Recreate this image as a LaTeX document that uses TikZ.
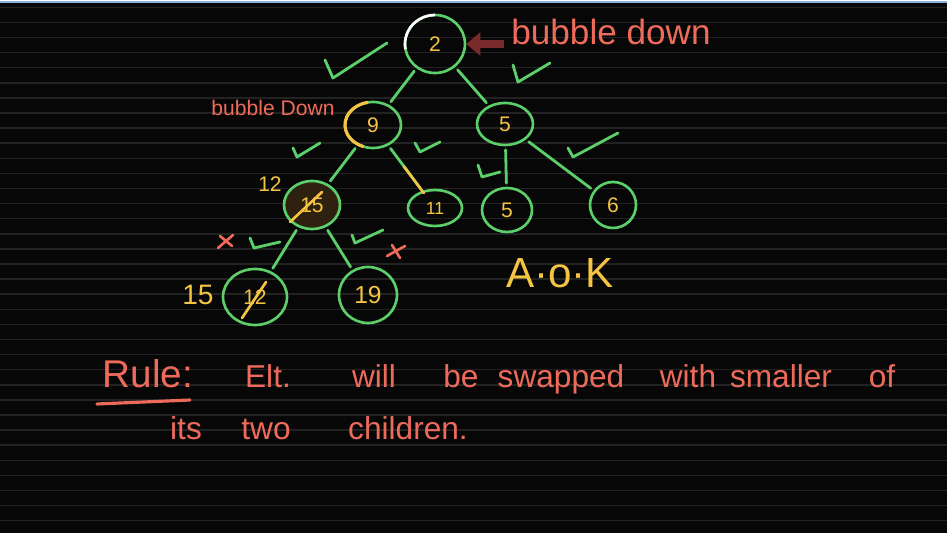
\documentclass[tikz,border=0pt]{standalone}
\usepackage{fontspec}
\setmainfont{Liberation Sans}
\usetikzlibrary{shapes.geometric,calc,arrows.meta}
\definecolor{bg}{HTML}{070707}
\definecolor{ruled}{HTML}{222222}
\definecolor{topblue}{HTML}{8EAEDB}
\definecolor{hgreen}{HTML}{5CCF6A}
\definecolor{hyellow}{HTML}{F5C443}
\definecolor{hred}{HTML}{EE6B5C}
\definecolor{arrowred}{HTML}{7A2A2A}
\definecolor{glow}{HTML}{2E2110}
\tikzset{
  heapnode/.style={ellipse, draw=hgreen, line width=1.5pt, inner sep=0pt, text=hyellow,
    font=\fontsize{12}{12}\selectfont},
  edgeline/.style={draw=hgreen, line width=1.6pt, line cap=round, shorten >=2pt, shorten <=2pt},
  inkgreen/.style={draw=hgreen, line width=1.6pt, line cap=round, line join=round},
  inkyellow/.style={draw=hyellow, line width=1.5pt, line cap=round},
  inkred/.style={draw=hred, line width=1.5pt, line cap=round},
  redtext/.style={text=hred, inner sep=0pt},
  yeltext/.style={text=hyellow, inner sep=0pt},
  ruletext/.style={redtext, anchor=base, font=\fontsize{18}{18}\selectfont},
  sz/.style 2 args={minimum width=#1*0.02cm, minimum height=#2*0.02cm}
}
\begin{document}
\begin{tikzpicture}[x=0.02cm,y=-0.02cm]
\useasboundingbox (0,0) rectangle (947,533);
\fill[bg] (0,0) rectangle (947,533);
\foreach \i in {0,...,34} \draw[ruled, line width=0.9pt] (0,{7.3+15.1*\i}) -- (947,{7.3+15.1*\i});
\fill[white] (0,0) rectangle (947,1.5);
\fill[topblue] (0,1.5) rectangle (947,3.5);

% heap nodes
\node[heapnode, sz={60}{58}] (n2) at (435,44) {2};
\node[heapnode, sz={56}{46}] (n9) at (373,125) {9};
\node[heapnode, sz={56}{42}] (n5) at (505,124) {5};
\node[heapnode, sz={56}{48}, fill=glow] (n15) at (312,205) {15};
\node[heapnode, sz={54}{36}, font=\fontsize{10}{10}\selectfont] (n11) at (435,208) {11};
\node[heapnode, sz={50}{44}] (n5b) at (507,210) {5};
\node[heapnode, sz={46}{46}] (n6) at (613,205) {6};
\node[heapnode, sz={64}{56}] (n12) at (255,297) {12};
\node[heapnode, sz={58}{56}, font=\fontsize{14}{14}\selectfont] (n19) at (368,295) {19};

% highlights on circles
\draw[white, line width=1.5pt] ([shift={(435,44)}]170:30 and 29) arc[start angle=170, end angle=270, x radius=30, y radius=29];
\draw[hyellow, line width=1.8pt] ([shift={(373,125)}]110:28 and 23) arc[start angle=110, end angle=260, x radius=28, y radius=23];

% edges
\draw[edgeline] (n2) -- (n9);
\draw[edgeline] (n2) -- (n5);
\draw[edgeline] (n9) -- (n15);
\draw[edgeline] (n9) -- (n11);
\draw[inkyellow] ($(n9)!0.5!(n11)$) -- ($(n9)!0.82!(n11)$);
\draw[edgeline] (n5) -- (n5b);
\draw[edgeline] (n5) -- (n6);
\draw[edgeline] (n15) -- (n12);
\draw[edgeline] (n15) -- (n19);

% strike-throughs
\draw[inkyellow] ($(n15)+(-22,17)$) -- ($(n15)+(10,-13)$);
\draw[inkyellow] ($(n12)+(-13,21)$) -- ($(n12)+(11,-15)$);

% check marks
\draw[inkgreen] (325,60) -- (333,78) -- (387,43);
\draw[inkgreen] (513,65) -- (518,82) -- (550,63);
\draw[inkgreen] (293,148) -- (297,157) -- (320,143);
\draw[inkgreen] (415,143) -- (420,152) -- (440,142);
\draw[inkgreen] (568,148) -- (573,157) -- (618,133);
\draw[inkgreen] (478,165) -- (482,177) -- (500,172);
\draw[inkgreen] (250,238) -- (254,248) -- (280,242);
\draw[inkgreen] (352,235) -- (355,243) -- (383,230);

% red crosses
\draw[inkred] (218,248) -- (233,235);
\draw[inkred] (220,236) -- (232,246);
\draw[inkred] (387,256) -- (405,246);
\draw[inkred] (392,245) -- (400,258);

% labels
\node[redtext, anchor=base, font=\fontsize{20}{20}\selectfont] (bd) at (611,45) {bubble down};
\draw[arrowred, line width=5pt, -{Triangle[length=8pt,width=13pt]}, shorten >=0pt] ([xshift=-4pt]bd.west |- n2) -- (n2.east);
\node[redtext, anchor=base, font=\fontsize{12}{12}\selectfont] (bd2) at (273,116) {bubble Down};
\node[yeltext, font=\fontsize{12}{12}\selectfont] (l12) at (270,184) {12};
\node[yeltext, font=\fontsize{16}{16}\selectfont] (l15) at (198,295) {15};
\node[yeltext, font=\fontsize{24}{24}\selectfont] (aok) at (560,273) {A·o·K};

% rule text
\node[ruletext, font=\fontsize{22}{22}\selectfont] (w1) at (148,388) {Rule:};
\draw[hred, line width=1.8pt, line cap=round] (97,404) -- (190,400);
\node[ruletext] (w2) at (268,388) {Elt.};
\node[ruletext] (w3) at (374,388) {will};
\node[ruletext] (w4) at (461,388) {be};
\node[ruletext] (w5) at (561,388) {swapped};
\node[ruletext] (w6) at (688,388) {with};
\node[ruletext] (w7) at (781,388) {smaller};
\node[ruletext] (w8) at (882,388) {of};
\node[ruletext] (w9) at (186,440) {its};
\node[ruletext] (w10) at (266,440) {two};
\node[ruletext] (w11) at (408,440) {children.};
\end{tikzpicture}
\end{document}
